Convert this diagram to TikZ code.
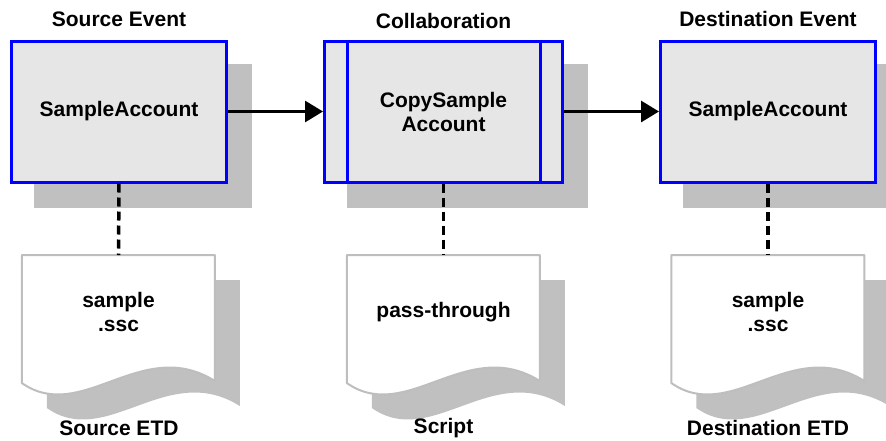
\documentclass[tikz,border=0pt]{standalone}
\usepackage{fontspec}
\setmainfont{Liberation Sans}
\usetikzlibrary{arrows.meta}
\definecolor{boxfill}{HTML}{E6E6E6}
\definecolor{shadowgray}{HTML}{C0C0C0}
\definecolor{docline}{HTML}{BEBEBE}
\definecolor{boxblue}{HTML}{0000FF}
\begin{document}
\begin{tikzpicture}[x=1pt,y=-1pt,
  txt/.style={font=\bfseries\fontsize{21}{24}\selectfont, align=center, inner sep=0pt},
  eventbox/.style={txt, draw=boxblue, line width=3pt, fill=boxfill,
    minimum height=141pt, inner sep=0pt},
  docarea/.style={anchor=north, minimum width=193pt, minimum height=128pt, inner sep=0pt},
  docshadow/.style={fill=shadowgray},
  docoutline/.style={draw=docline, line width=2pt, fill=white, line join=round},
  flow/.style={line width=3pt, -{Triangle[length=18pt,width=21pt]}},
  link/.style={line width=3.5pt, dash pattern=on 9pt off 5pt}
]
\useasboundingbox (0,0) rectangle (886,440);
\clip (0,0) rectangle (886,440);

% event and collaboration boxes
\path (119,111.5) node[eventbox, minimum width=215pt] (b1) {SampleAccount};
\path (443.5,111.5) node[eventbox, minimum width=238pt, draw=none, fill=none] (b2) {};
\path (768,111.5) node[eventbox, minimum width=215pt] (b3) {SampleAccount};

% box shadows
\foreach \n in {b1,b2,b3}
  \fill[shadowgray] ([shift={(24,24)}]\n.north west) rectangle ([shift={(24,24)}]\n.south east);

% redraw boxes over their shadows
\node[eventbox, minimum width=215pt] at (b1) {SampleAccount};
\node[eventbox, minimum width=238pt] at (b2) {CopySample\\Account};
\node[eventbox, minimum width=215pt] at (b3) {SampleAccount};
\draw[boxblue, line width=3pt] ([xshift=24]b2.north west) -- ([xshift=24]b2.south west);
\draw[boxblue, line width=3pt] ([xshift=-24]b2.north east) -- ([xshift=-24]b2.south east);

% titles
\node[txt] (t1) at (119,19) {Source Event};
\node[txt] (t2) at (443.5,21) {Collaboration};
\node[txt] (t3) at (768,19) {Destination Event};

% document areas
\node[docarea] (d1) at (118.5,255) {};
\node[docarea] (d2) at (443.5,255) {};
\node[docarea] (d3) at (768,255) {};

\foreach \n in {d1,d2,d3} {
  \fill[docshadow] ([shift={(25,25)}]\n.north west) -- ++(193,0) -- ++(0,126)
    .. controls +(-73,-46) and +(60,42) .. ++(-193,2) -- cycle;
  \draw[docoutline] (\n.north west) -- ++(193,0) -- ++(0,126)
    .. controls +(-73,-46) and +(60,42) .. ++(-193,2) -- cycle;
}

% document texts
\node[txt] (s1) at (118.5,312) {sample\\.ssc};
\node[txt] (s2) at (443.5,312) {pass-through};
\node[txt] (s3) at (768,312) {sample\\.ssc};

% captions
\node[txt] (c1) at (119,428) {Source ETD};
\node[txt] (c2) at (443.5,428) {Script};
\node[txt] (c3) at (768,428) {Destination ETD};

% connectors
\draw[flow] (b1.east) -- (b2.west);
\draw[flow] (b2.east) -- (b3.west);
\draw[link] (b1.south) -- (d1.north);
\draw[link] (b2.south) -- (d2.north);
\draw[link] (b3.south) -- (d3.north);
\end{tikzpicture}
\end{document}
